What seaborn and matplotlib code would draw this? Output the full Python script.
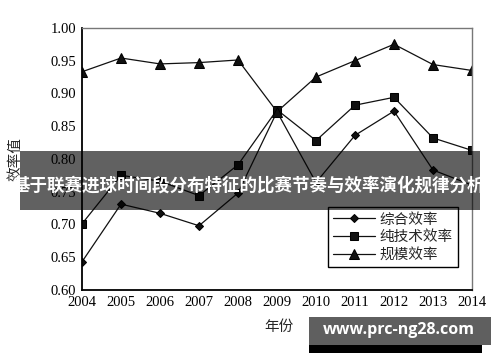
import matplotlib
matplotlib.use("Agg")
import matplotlib.pyplot as plt
from matplotlib.patches import Rectangle
import seaborn as sns
import pandas as pd

sns.set_style("white")
plt.rcParams['font.family'] = ['Liberation Serif', 'Noto Sans CJK SC', 'DejaVu Sans']

# data
years = [2004, 2005, 2006, 2007, 2008, 2009, 2010, 2011, 2012, 2013, 2014]
zonghe = [0.643, 0.731, 0.717, 0.698, 0.748, 0.872, 0.764, 0.836, 0.873, 0.783, 0.760]
chunjishu = [0.701, 0.775, 0.766, 0.744, 0.791, 0.875, 0.828, 0.882, 0.894, 0.832, 0.813]
guimo = [0.933, 0.954, 0.945, 0.947, 0.951, 0.872, 0.925, 0.950, 0.975, 0.944, 0.935]

series_names = ["综合效率", "纯技术效率", "规模效率"]
markers = ["D", "s", "^"]
marker_sizes = [4.5, 5.5, 6.5]

df = pd.DataFrame({"年份": years, series_names[0]: zonghe,
                   series_names[1]: chunjishu, series_names[2]: guimo})

fig = plt.figure(figsize=(5, 3.62), dpi=100)
ax = fig.add_axes([0.164, 0.199, 0.78, 0.724])

for name, m, ms in zip(series_names, markers, marker_sizes):
    sns.lineplot(data=df, x="年份", y=name, ax=ax, color="#111111", lw=0.9,
                 marker=m, markersize=ms, markeredgecolor="black", label=name)

ax.set_xlim(2004, 2014)
ax.set_ylim(0.60, 1.00)
ax.set_xticks(years)
ax.set_yticks([0.60, 0.65, 0.70, 0.75, 0.80, 0.85, 0.90, 0.95, 1.00])
ax.set_yticklabels([f"{v:.2f}" for v in ax.get_yticks()])
ax.tick_params(direction="in", length=4, width=1, labelsize=10.5, colors="black", pad=4)
ax.set_xlabel("")
ax.set_ylabel("")

for s in ["left", "bottom"]:
    ax.spines[s].set_color("black")
    ax.spines[s].set_linewidth(1.3)
for s in ["top", "right"]:
    ax.spines[s].set_color("#777777")
    ax.spines[s].set_linewidth(1.0)

leg = ax.legend(loc="lower right", bbox_to_anchor=(0.964, 0.088), borderaxespad=0,
                fancybox=False, edgecolor="black", framealpha=1,
                handlelength=2.9, handletextpad=0.3, labelspacing=0.25,
                borderpad=0.35, prop={"family": ["Noto Sans CJK SC"], "size": 10.5})
leg.get_frame().set_linewidth(1.0)

fig.text(0.558, 0.097, "年份", ha="center", va="center", fontsize=10.5,
         family=["Noto Sans CJK SC"])
fig.text(0.03, 0.56, "效率值", ha="center", va="center", rotation=90,
         fontsize=10.5, family=["Noto Sans CJK SC"])

# overlay banner
fig.patches.append(Rectangle((0.04, 0.42), 0.92, 0.163, transform=fig.transFigure,
                             facecolor="black", alpha=0.62, edgecolor="none", zorder=10))
fig.text(0.498, 0.487, "基于联赛进球时间段分布特征的比赛节奏与效率演化规律分析",
         ha="center", va="center", color="white", fontsize=12.6, fontweight="bold",
         family=["Noto Sans CJK SC"], zorder=11)

# watermark
fig.patches.append(Rectangle((0.618, 0.025), 0.345, 0.025, transform=fig.transFigure,
                             facecolor="black", edgecolor="none", zorder=10))
fig.patches.append(Rectangle((0.618, 0.047), 0.364, 0.077, transform=fig.transFigure,
                             facecolor="#5f5f5f", edgecolor="none", zorder=10))
fig.text(0.798, 0.088, "www.prc-ng28.com", ha="center", va="center", color="white",
         fontsize=11.5, fontweight="bold", family=["Open Sans"], zorder=11)

fig.savefig("out.png", dpi=100)
